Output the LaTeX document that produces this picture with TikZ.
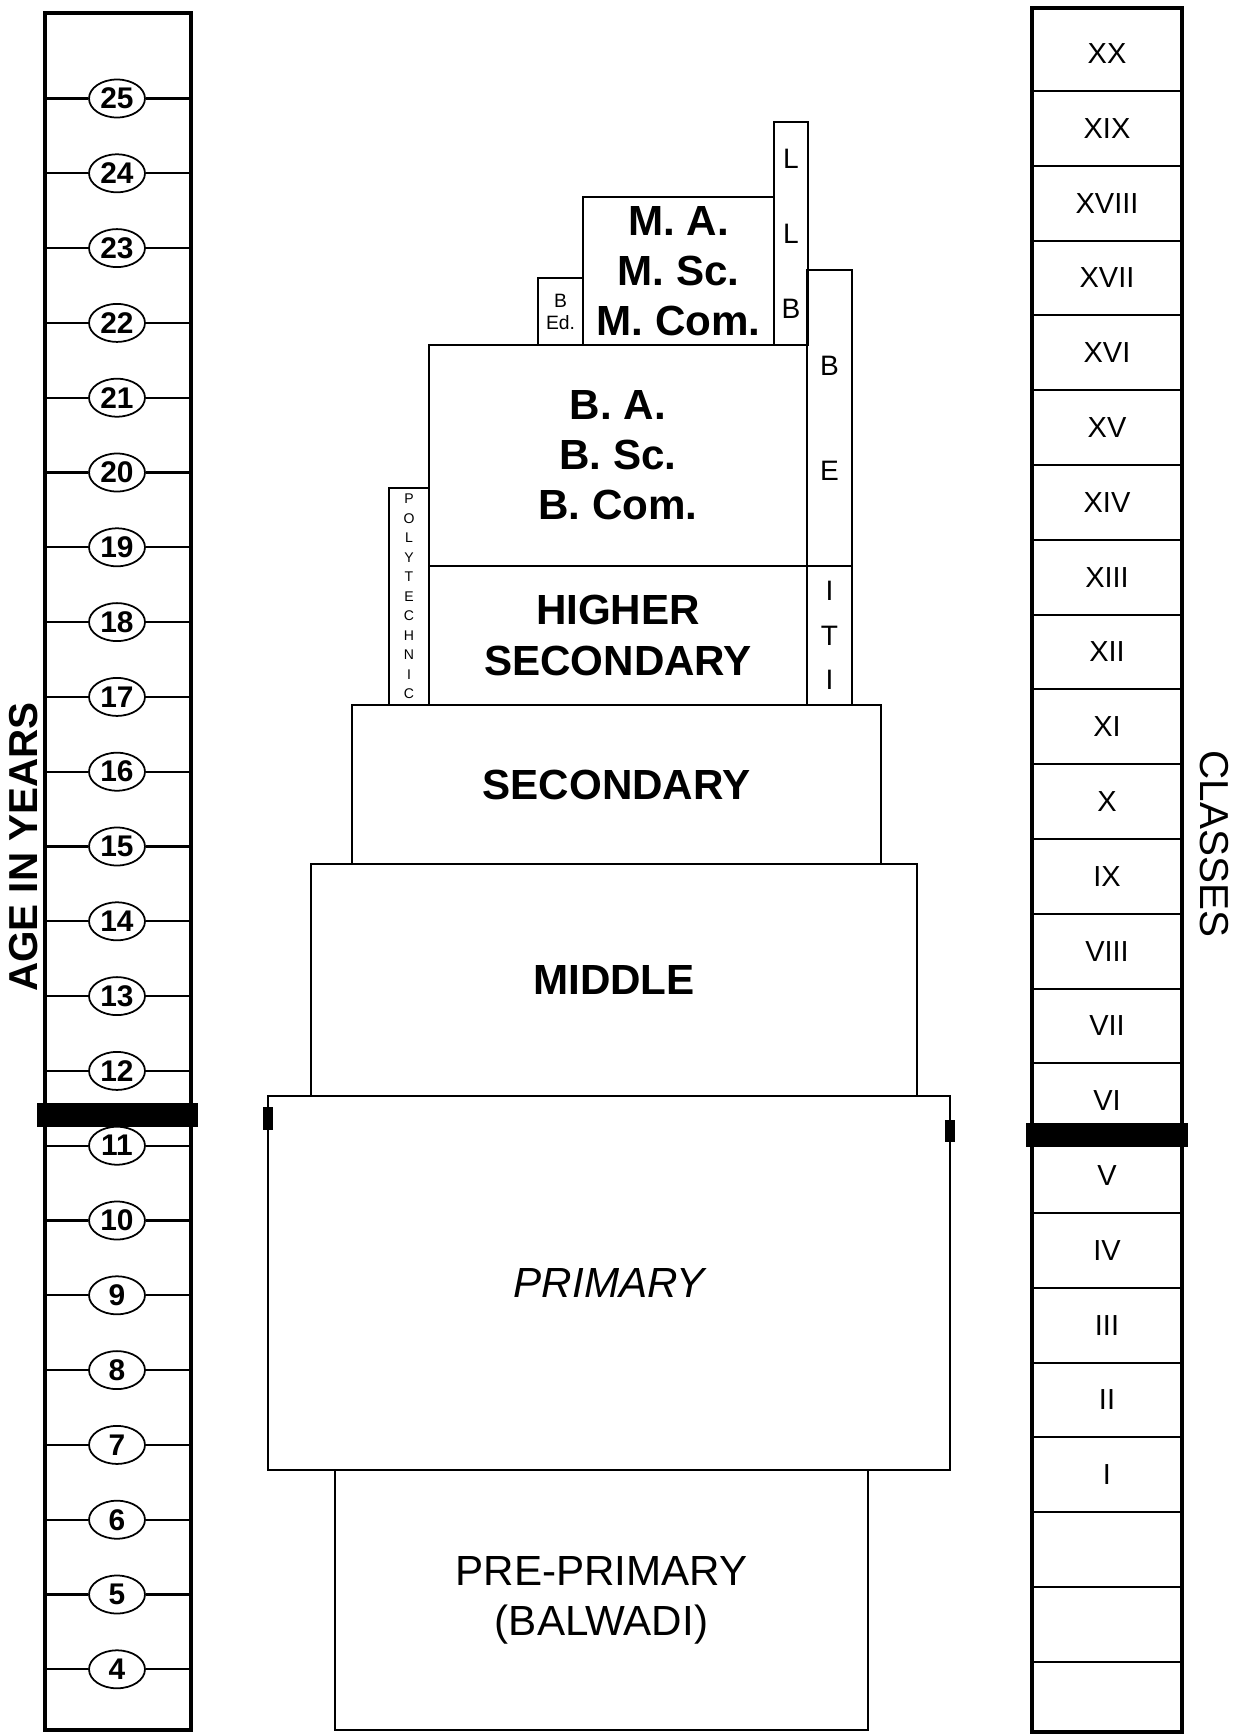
\documentclass[tikz,border=0pt]{standalone}
\usepackage{fontspec}
\setmainfont{Liberation Sans}
\usetikzlibrary{shapes.geometric}
\tikzset{
  every node/.style={text=black},
  stage/.style={draw,line width=1pt,align=center,inner sep=0pt,font=\bfseries\fontsize{24}{28.5}\selectfont},
  plainstage/.style={stage,font=\fontsize{24}{28.5}\selectfont},
  slim/.style={draw,line width=1pt,align=center,inner sep=0pt,font=\fontsize{16}{25.3}\selectfont},
  agecolumn/.style={draw,line width=2pt,inner sep=0pt},
  agenum/.style={draw,ellipse,fill=white,line width=1pt,minimum width=1.12cm,minimum height=0.76cm,inner sep=0pt,font=\bfseries\fontsize{17}{17}\selectfont},
  clsnum/.style={font=\fontsize{16.5}{16.5}\selectfont},
  gridline/.style={line width=1.2pt},
  stopbar/.style={fill=black,inner sep=0pt,minimum height=0.48cm},
  axis/.style={font=\bfseries\fontsize{23}{23}\selectfont},
}
\begin{document}
\begin{tikzpicture}[x=0.02cm,y=-0.02cm]
  \useasboundingbox (0,0) rectangle (1234,1735);

  % age scale
  \node[agecolumn,minimum width=2.92cm,minimum height=34.34cm] (agecol) at (118,871.5) {};
  \foreach \a in {4,...,25}{
    \pgfmathsetmacro\yy{98.5+(25-\a)*74.8}
    \node[agenum] (age\a) at (117,\yy) {\a};
    \draw[gridline] (agecol.west |- age\a) -- (age\a);
    \draw[gridline] (age\a) -- (agecol.east |- age\a);
  }
  \node[axis,rotate=90] (agelabel) at (24,847) {AGE IN YEARS};

  % class scale
  \node[agecolumn,minimum width=3.0cm,minimum height=34.48cm] (clscol) at (1107,870) {};
  \foreach \k in {0,...,21}{
    \ifnum\k=14\else
      \pgfmathsetmacro\yy{91+\k*74.8}
      \coordinate (rl\k) at (1107,\yy);
      \draw[gridline] (clscol.west |- rl\k) -- (clscol.east |- rl\k);
    \fi
  }
  \foreach \c [count=\i from 0] in {XX,XIX,XVIII,XVII,XVI,XV,XIV,XIII,XII,XI,X,IX,VIII,VII,VI,V,IV,III,II,I}{
    \pgfmathsetmacro\yy{91+(\i-0.5)*74.8}
    \node[clsnum] (cls\c) at (1107,\yy) {\c};
  }
  \node[font=\fontsize{23}{23}\selectfont,rotate=-90] (clslabel) at (1214,844) {CLASSES};

  % stages
  \node[plainstage,minimum width=10.66cm,minimum height=5.2cm] (preprim) at (601.5,1600) {PRE-PRIMARY\\(BALWADI)};
  \node[plainstage,font=\itshape\fontsize{24}{28.5}\selectfont,minimum width=13.64cm,minimum height=7.48cm] (primary) at (609,1283) {PRIMARY};
  \node[stage,minimum width=12.12cm,minimum height=4.64cm] (middle) at (614,980) {MIDDLE};
  \node[stage,minimum width=10.58cm,minimum height=3.18cm] (secondary) at (616.5,784.5) {SECONDARY};
  \node[stage,minimum width=7.56cm,minimum height=2.78cm] (higher) at (618,635.5) {HIGHER\\SECONDARY};
  \node[stage,minimum width=7.56cm,minimum height=4.42cm] (degree) at (618,455.5) {B. A.\\B. Sc.\\B. Com.};
  \node[stage,minimum width=3.82cm,minimum height=2.96cm] (master) at (678.5,271) {M. A.\\M. Sc.\\M. Com.};
  \node[slim,font=\fontsize{11}{12.5}\selectfont,minimum width=0.9cm,minimum height=1.34cm] (bed) at (560.5,311.5) {B\\Ed.};
  \node[slim,font=\fontsize{16}{42.7}\selectfont,minimum width=0.68cm,minimum height=4.46cm] (llb) at (791,233.5) {L\\L\\B};
  \node[slim,font=\fontsize{16}{59.8}\selectfont,minimum width=0.9cm,minimum height=5.92cm] (be) at (829.5,418) {B\\E};
  \node[slim,minimum width=0.9cm,minimum height=2.78cm] (iti) at (829.5,635.5) {I\\T\\I};
  \node[slim,font=\fontsize{8}{11.1}\selectfont,minimum width=0.8cm,minimum height=4.34cm] (poly) at (409,596.5) {P\\O\\L\\Y\\T\\E\\C\\H\\N\\I\\C};

  % age 11 cut
  \node[stopbar,minimum width=3.22cm] (agebar) at (117.5,1115) {};
  \node[stopbar,minimum width=3.24cm] (clsbar) at (1107,1135) {};
  \node[stopbar,minimum width=0.2cm,minimum height=0.46cm] (lmark) at (268,1118) {};
  \node[stopbar,minimum width=0.2cm,minimum height=0.44cm] (rmark) at (950,1131) {};
\end{tikzpicture}
\end{document}
